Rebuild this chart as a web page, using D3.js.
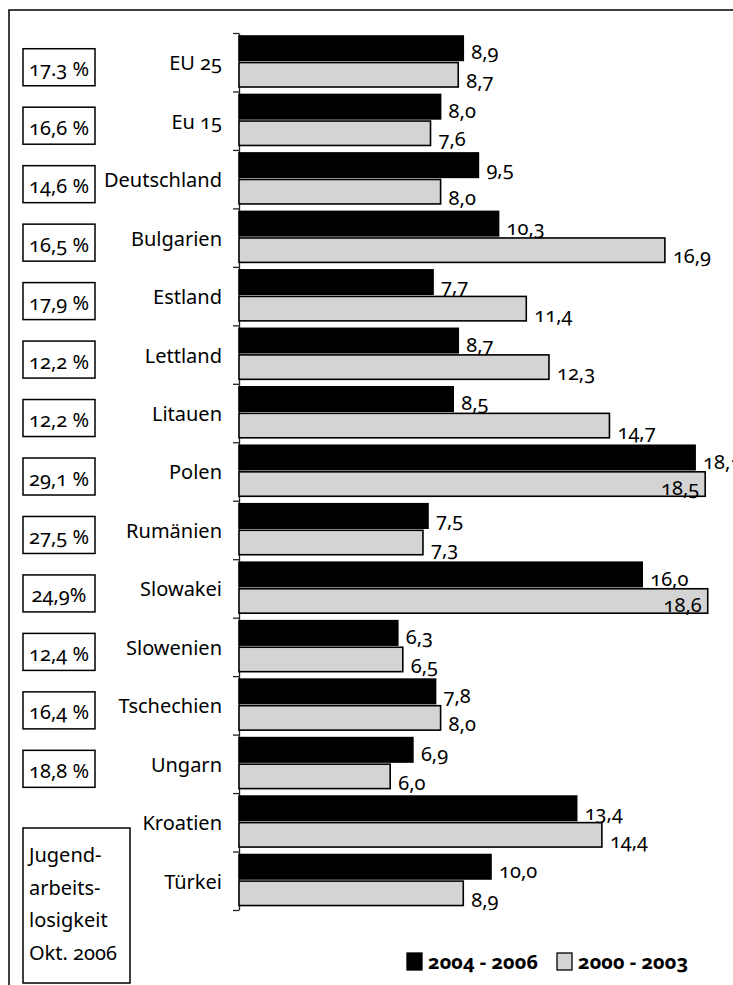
<!DOCTYPE html>
<html>
<head>
<meta charset="utf-8">
<script src="https://cdn.jsdelivr.net/npm/d3@7"></script>
<style>
  body { margin: 0; background: #fff; }
  svg { display: block; font-family: "Noto Sans", "Open Sans", sans-serif; }
  text { fill: #000; font-variant-numeric: oldstyle-nums; }
</style>
</head>
<body>
<div id="chart"></div>
<script>
// data
const countries = ["EU 25", "Eu 15", "Deutschland", "Bulgarien", "Estland", "Lettland", "Litauen",
  "Polen", "Rumänien", "Slowakei", "Slowenien", "Tschechien", "Ungarn", "Kroatien", "Türkei"];
const series = ["2004 - 2006", "2000 - 2003"];
const recent = [8.9, 8.0, 9.5, 10.3, 7.7, 8.7, 8.5, 18.1, 7.5, 16.0, 6.3, 7.8, 6.9, 13.4, 10.0];
const earlier = [8.7, 7.6, 8.0, 16.9, 11.4, 12.3, 14.7, 18.5, 7.3, 18.6, 6.5, 8.0, 6.0, 14.4, 8.9];
const youthLabels = ["17.3 %", "16,6 %", "14,6 %", "16,5 %", "17,9 %", "12,2 %", "12,2 %",
  "29,1 %", "27,5 %", "24,9%", "12,4 %", "16,4 %", "18,8 %"];
const noteLines = ["Jugend-", "arbeits-", "losigkeit", "Okt. 2006"];

const width = 733, height = 985;
const margin = { top: 33, left: 239, bottom: 75 };
const colors = { "2004 - 2006": "#000", "2000 - 2003": "#d4d4d4" };

const rows = countries.map((c, i) => ({ country: c, values: [recent[i], earlier[i]] }));

const de = d3.formatLocale({ decimal: ",", thousands: ".", grouping: [3], currency: ["", "€"] });
const fmt = de.format(".1f");

const svg = d3.select("#chart").append("svg")
  .attr("width", width)
  .attr("height", height);

// outer frame (only top and left edge visible)
svg.append("path")
  .attr("d", `M9,${height} V10 H${width}`)
  .attr("fill", "none")
  .attr("stroke", "#000")
  .attr("stroke-width", 1.5);

const y = d3.scaleBand()
  .domain(countries)
  .range([margin.top, 910]);

const ySub = d3.scaleBand()
  .domain(series)
  .range([3, 54])
  .paddingInner(0.08);

const x = d3.scaleLinear()
  .domain([0, 20])
  .range([margin.left, margin.left + 504]);

// axis, ticks sit between the categories
const yIdx = d3.scaleLinear().domain([0, countries.length]).range(y.range());
svg.append("g")
  .attr("transform", `translate(${margin.left},0)`)
  .call(d3.axisLeft(yIdx).tickValues(d3.range(countries.length + 1)).tickFormat("").tickSize(6).tickSizeOuter(0))
  .call(g => g.selectAll("line, path").attr("stroke", "#222").attr("stroke-width", 1.3));

const groups = svg.selectAll(".row")
  .data(rows)
  .join("g")
  .attr("class", "row")
  .attr("transform", d => `translate(0,${y(d.country)})`);

groups.selectAll("rect")
  .data(d => d.values.map((v, j) => ({ key: series[j], value: v })))
  .join("rect")
  .attr("x", x(0))
  .attr("y", d => ySub(d.key))
  .attr("width", d => x(d.value) - x(0))
  .attr("height", ySub.bandwidth())
  .attr("fill", d => colors[d.key])
  .attr("stroke", "#000")
  .attr("stroke-width", 1.6);

groups.selectAll(".val")
  .data(d => d.values.map((v, j) => ({ key: series[j], value: v })))
  .join("text")
  .attr("class", "val")
  .attr("font-size", 20)
  .each(function(d) {
    const t = d3.select(this);
    const bottom = ySub(d.key) + ySub.bandwidth();
    const inside = d.key === series[1] && x(d.value) + 40 > width;
    if (inside) {
      t.attr("x", x(d.value) - 6).attr("text-anchor", "end").attr("y", bottom - 1);
    } else {
      t.attr("x", x(d.value) + 8).attr("y", d.key === series[0] ? bottom - 1 : bottom + 1);
    }
  })
  .text(d => fmt(d.value));

// category names
groups.append("text")
  .attr("x", margin.left - 17)
  .attr("y", y.bandwidth() / 2 + 8)
  .attr("text-anchor", "end")
  .attr("font-size", 20)
  .text(d => d.country);

// youth unemployment boxes
const boxes = svg.selectAll(".box")
  .data(youthLabels)
  .join("g")
  .attr("class", "box")
  .attr("transform", (d, i) => `translate(23,${y(countries[i]) + y.bandwidth() / 2 + 5})`);

boxes.append("rect")
  .attr("x", 0)
  .attr("y", -18.5)
  .attr("width", 72)
  .attr("height", 37)
  .attr("fill", "#fff")
  .attr("stroke", "#000")
  .attr("stroke-width", 1.5);

boxes.append("text")
  .attr("x", 36)
  .attr("y", 9)
  .attr("text-anchor", "middle")
  .attr("font-size", 20)
  .text(d => d);

// note box bottom left
const note = svg.append("g").attr("transform", "translate(23,828)");
note.append("rect")
  .attr("width", 107)
  .attr("height", 155)
  .attr("fill", "#fff")
  .attr("stroke", "#000")
  .attr("stroke-width", 1.5);
note.selectAll("text")
  .data(noteLines)
  .join("text")
  .attr("x", 6)
  .attr("y", (d, i) => 34 + i * 32.5)
  .attr("font-size", 20)
  .text(d => d);

// legend
const legend = svg.append("g").attr("transform", "translate(407,953)");
const item = legend.selectAll("g")
  .data(series)
  .join("g")
  .attr("transform", (d, i) => `translate(${i * 150},0)`);
item.append("rect")
  .attr("width", 15)
  .attr("height", 17)
  .attr("fill", d => colors[d])
  .attr("stroke", "#000")
  .attr("stroke-width", 1.3);
item.append("text")
  .attr("x", 21)
  .attr("y", 16)
  .attr("font-size", 20)
  .style("font-weight", "bold")
  .text(d => d);
</script>
</body>
</html>
